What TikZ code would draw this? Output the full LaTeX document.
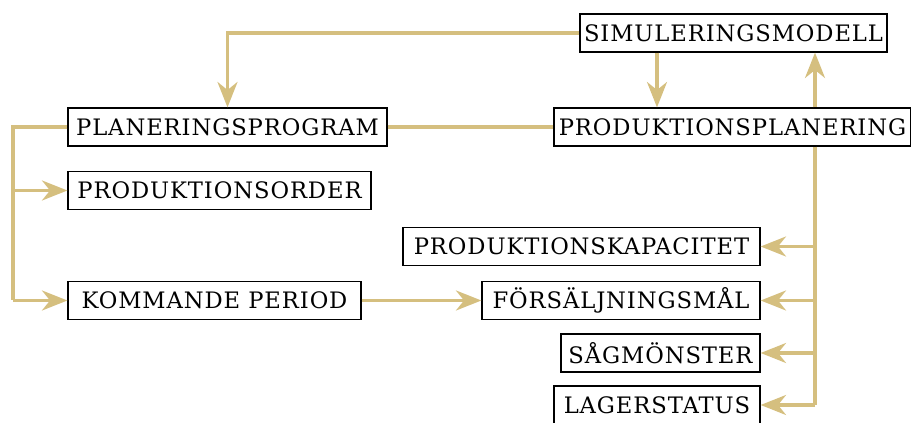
\documentclass[tikz,border=0pt]{standalone}
\usepackage{fontspec}
\setmainfont{DejaVu Serif}[LetterSpace=4]
\usetikzlibrary{arrows.meta, positioning}
\definecolor{gold}{HTML}{D5BF7F}
\tikzset{>={Stealth[length=19pt,width=15pt,inset=6pt]}}

\begin{document}
\begin{tikzpicture}[x=0.75pt,y=-0.75pt,
    box/.style={draw,line width=1pt,inner sep=0pt,minimum height=28.5pt,font=\fontsize{17}{20}\selectfont},
    flow/.style={draw=gold,line width=2.4pt}]
    \useasboundingbox (0,0) rectangle (911,423);
    \node[box,minimum width=230.25pt] (sim) at (733.5,33) {SIMULERINGSMODELL};
    \node[box,minimum width=239.25pt] (plan) at (227.5,127) {PLANERINGSPROGRAM};
    \node[box,minimum width=267.75pt] (prodplan) at (732.5,127) {PRODUKTIONSPLANERING};
    \node[box,minimum width=227.25pt] (order) at (219.5,190.5) {PRODUKTIONSORDER};
    \node[box,minimum width=219.75pt] (next) at (214.5,300.5) {KOMMANDE PERIOD};
    \node[box,minimum width=267.75pt] (capacity) at (581.5,246.5) {PRODUKTIONSKAPACITET};
    \node[box,minimum width=208.5pt] (sales) at (621,300.5) {FÖRSÄLJNINGSMÅL};
    \node[box,minimum width=149.25pt] (saw) at (660.5,353) {SÅGMÖNSTER};
    \node[box,minimum width=154.5pt] (stock) at (657,405) {LAGERSTATUS};
    % bus lines
    \coordinate (lbus) at (13,0);
    \coordinate (rbus) at (815,0);
    \coordinate (down) at (657,0);
    \draw[flow,->] (sim.west) -| (plan.north);
    \draw[flow,->] (sim.south -| down) -- (prodplan.north -| down);
    \draw[flow,->] (prodplan.north -| rbus) -- (sim.south -| rbus);
    \draw[flow] (plan) -- (prodplan);
    \draw[flow] (plan.west) -- (plan.west -| lbus) -- (next.west -| lbus);
    \draw[flow] (prodplan.south -| rbus) -- (stock.east -| rbus);
    \path[every edge/.style={flow,->}]
        (order.west -| lbus)    edge (order.west)
        (next.west -| lbus)     edge (next.west)
        (next.east)             edge (sales.west)
        (capacity.east -| rbus) edge (capacity.east)
        (sales.east -| rbus)    edge (sales.east)
        (saw.east -| rbus)      edge (saw.east)
        (stock.east -| rbus)    edge (stock.east)
    ;
\end{tikzpicture}
\end{document}
